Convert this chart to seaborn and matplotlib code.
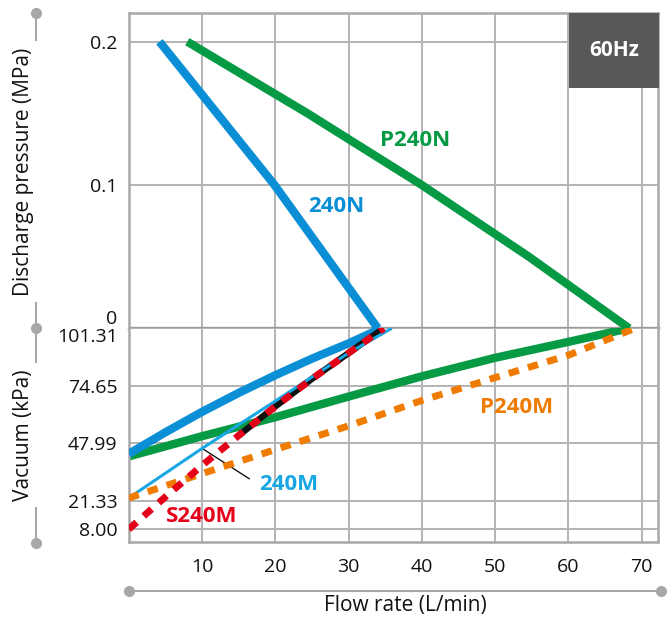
import matplotlib
matplotlib.use("Agg")
import matplotlib.pyplot as plt
import seaborn as sns
from matplotlib.lines import Line2D
from matplotlib.patches import Rectangle

# ---------------- data ----------------
# discharge-pressure side (MPa)
flow_240N_p = [4.2, 19.9, 34.0]
press_240N = [0.2, 0.1, 0.0]
flow_P240N_p = [8.0, 24.4, 40.0, 54.6, 68.3]
press_P240N = [0.2, 0.15, 0.1, 0.05, 0.0]

# vacuum side (kPa)
flow_240N_v = [0, 5, 10, 15, 20, 25, 30, 34.5]
vac_240N = [43.0, 53.0, 62.5, 71.3, 79.5, 87.2, 94.3, 101.31]
flow_P240N_v = [0, 10, 20, 30, 40, 50, 60, 68.3]
vac_P240N = [41.8, 51.2, 60.0, 69.6, 79.0, 87.6, 95.0, 101.31]
flow_240M = [0, 10, 20, 30, 35.9]
vac_240M = [22.5, 45.5, 67.5, 89.8, 101.31]
flow_P240M = [0, 10, 20, 30, 40, 50, 60, 69.1]
vac_P240M = [22.5, 33.8, 45.0, 56.0, 67.8, 78.4, 88.8, 101.31]
flow_S240M = [0, 5, 10, 15, 20, 25, 30, 34.8]
vac_S240M = [8.0, 23.0, 37.6, 51.5, 65.0, 77.8, 89.8, 101.31]
s240m_overlay_from = 3  # dark overlay under the red dashes starts here

flow_ticks = [10, 20, 30, 40, 50, 60, 70]
pressure_ticks = [0, 0.1, 0.2]
pressure_labels = ["0", "0.1", "0.2"]
vacuum_ticks = [8.00, 21.33, 47.99, 74.65, 101.31]
vacuum_labels = ["8.00", "21.33", "47.99", "74.65", "101.31"]

# ---------------- style ----------------
sns.set_style("white")
plt.rcParams["font.family"] = ["Open Sans", "DejaVu Sans"]
plt.rcParams["lines.scale_dashes"] = False

C_BLUE = "#0a8ed6"
C_LBLUE = "#19a7e3"
C_GREEN = "#079a45"
C_ORANGE = "#ef7c00"
C_RED = "#e50019"
GRID = "#b3b3b3"
DECO = "#a8a8a8"

W, H = 670, 619
fig = plt.figure(figsize=(W / 100, H / 100), dpi=100)


def fx(px):
    return px / W


def fy(py):
    return 1 - py / H


L, R = 128.7, 657.7
Y_TOP, Y_MID, Y_BOT = 13.3, 328.3, 542.3
ax_top = fig.add_axes([fx(L), fy(Y_MID), (R - L) / W, (Y_MID - Y_TOP) / H])
ax_bot = fig.add_axes([fx(L), fy(Y_BOT), (R - L) / W, (Y_BOT - Y_MID) / H])


def line(ax, x, y, color, lw, ls="-", z=2):
    sns.lineplot(x=x, y=y, ax=ax, color=color, linewidth=lw, linestyle=ls,
                 estimator=None, sort=False, solid_capstyle="butt",
                 dash_capstyle="butt", solid_joinstyle="round", zorder=z)


DASH = (0, (7.6, 6.8))

# pressure curves
line(ax_top, flow_P240N_p, press_P240N, C_GREEN, 6.0)
line(ax_top, flow_240N_p, press_240N, C_BLUE, 6.0)

# vacuum curves
line(ax_bot, flow_P240N_v, vac_P240N, C_GREEN, 6.0, z=2)
line(ax_bot, flow_240N_v, vac_240N, C_BLUE, 6.0, z=3)
line(ax_bot, flow_S240M[s240m_overlay_from:], vac_S240M[s240m_overlay_from:],
     "#111111", 4.6, z=4)
line(ax_bot, flow_240M, vac_240M, C_LBLUE, 2.2, z=5)
line(ax_bot, flow_P240M, vac_P240M, C_ORANGE, 5.0, ls=DASH, z=6)
line(ax_bot, flow_S240M, vac_S240M, C_RED, 5.0, ls=DASH, z=7)

# ---------------- axes ----------------
for ax in (ax_top, ax_bot):
    ax.set_xlim(0, 72.2)
    ax.set_xticks(flow_ticks)
    ax.grid(True, color=GRID, linewidth=1.4)
    ax.set_axisbelow(True)
    ax.set_xlabel("")
    ax.set_ylabel("")
    for s in ax.spines.values():
        s.set_color(DECO)
        s.set_linewidth(1.8)
    ax.tick_params(axis="y", length=5, width=1.4, color=GRID, pad=3,
                   labelsize=14, labelcolor="#111111")

ax_top.set_ylim(0, 0.2198)
ax_top.set_yticks(pressure_ticks, pressure_labels)
ax_top.tick_params(axis="x", length=0, labelbottom=False)
ax_top.spines["bottom"].set_color("#9a9a9a")
ax_top.spines["bottom"].set_linewidth(2.4)
ax_top.spines["bottom"].set_zorder(1)

ax_bot.set_ylim(1.94, 101.31)
ax_bot.set_yticks(vacuum_ticks, vacuum_labels)
ax_bot.spines["top"].set_visible(False)
ax_bot.tick_params(axis="x", length=6.5, width=1.4, color=GRID, pad=5,
                   labelsize=14, labelcolor="#111111")

ax_top.yaxis.get_major_ticks()[0].label1.set_verticalalignment("bottom")
ax_bot.yaxis.get_major_ticks()[-1].label1.set_verticalalignment("top")

# series labels
ax_top.text(39.06, 0.1307, "P240N", color=C_GREEN, fontsize=16,
            fontweight="bold", ha="center", va="center")
ax_top.text(28.4, 0.0853, "240N", color=C_BLUE, fontsize=16,
            fontweight="bold", ha="center", va="center")
ax_bot.text(53.0, 64.7, "P240M", color=C_ORANGE, fontsize=16,
            fontweight="bold", ha="center", va="center")
ax_bot.text(21.9, 28.8, "240M", color=C_LBLUE, fontsize=16,
            fontweight="bold", ha="center", va="center")
ax_bot.text(10.0, 13.9, "S240M", color=C_RED, fontsize=16,
            fontweight="bold", ha="center", va="center")
ax_bot.annotate("", xy=(9.86, 45.9), xytext=(16.8, 30.7),
                arrowprops=dict(arrowstyle="-", color="black", lw=0.9))

# 60Hz badge
fig.add_artist(Rectangle((fx(568.7), fy(87.7)), (659 - 568.7) / W, (87.7 - 13.3) / H,
                         transform=fig.transFigure, facecolor="#595757",
                         edgecolor="none", zorder=5))
fig.text(fx(614), fy(51), "60Hz", color="white", fontsize=15, fontweight="bold",
         ha="center", va="center", zorder=6)

# decorative axis rails
fig.add_artist(Line2D([fx(36), fx(36)], [fy(13.3), fy(542.7)], color=DECO,
                      lw=1.5, transform=fig.transFigure, zorder=1))
fig.add_artist(Line2D([fx(36)] * 3, [fy(13.3), fy(328.3), fy(542.7)], color=DECO,
                      lw=0, marker="o", markersize=7, transform=fig.transFigure, zorder=1))
fig.add_artist(Line2D([fx(128.5), fx(661)], [fy(590.7), fy(590.7)], color=DECO,
                      lw=1.5, marker="o", markersize=7, transform=fig.transFigure, zorder=1))

box = dict(boxstyle="square,pad=0.3", facecolor="white", edgecolor="none")
fig.text(fx(24), fy(171.5), "Discharge pressure (MPa)", rotation=90, fontsize=15,
         ha="center", va="center", bbox=box, zorder=3, color="#111111")
fig.text(fx(24), fy(435), "Vacuum (kPa)", rotation=90, fontsize=15,
         ha="center", va="center", bbox=box, zorder=3, color="#111111")
fig.text(fx(405), fy(606), "Flow rate (L/min)", fontsize=15,
         ha="center", va="center", color="#111111")

fig.savefig("out.png", dpi=100)
